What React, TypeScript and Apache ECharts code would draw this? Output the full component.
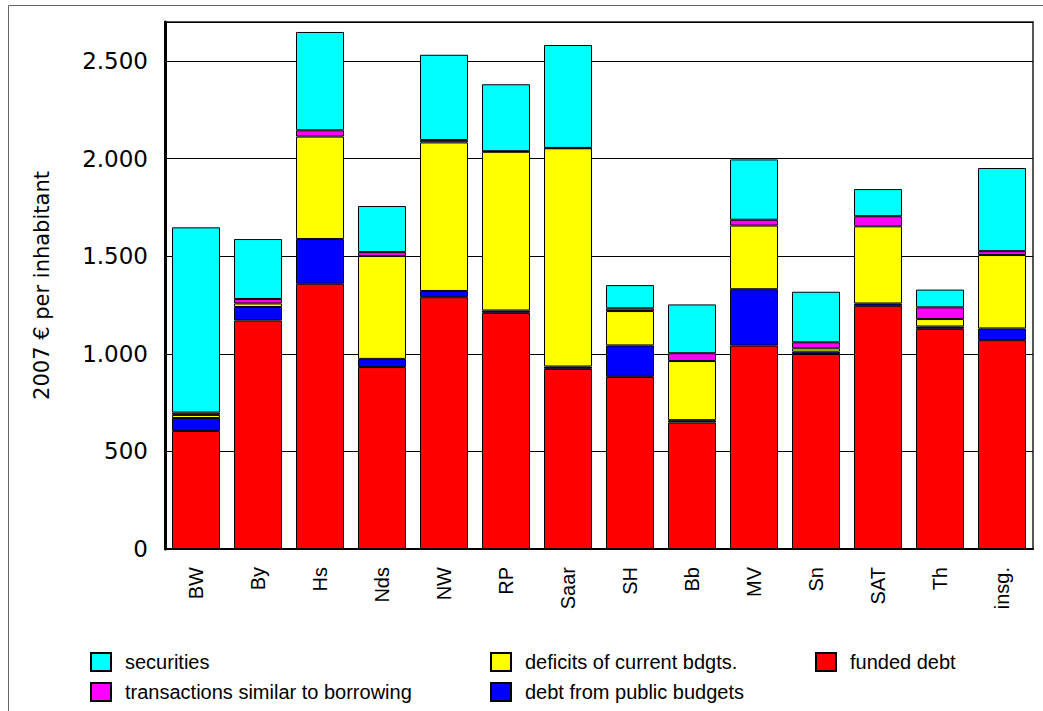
import React, { useEffect, useRef } from "react";
import * as echarts from "echarts";

const categories = ["BW", "By", "Hs", "Nds", "NW", "RP", "Saar", "SH", "Bb", "MV", "Sn", "SAT", "Th", "insg."];
const fundedDebt = [605, 1171, 1359, 932, 1290, 1210, 923, 882, 648, 1042, 999, 1246, 1128, 1070];
const debtFromPublicBudgets = [66, 69, 229, 42, 32, 12, 12, 161, 12, 289, 12, 12, 12, 60];
const deficitsOfCurrentBudgets = [16, 18, 525, 527, 761, 813, 1118, 176, 303, 326, 17, 395, 38, 376];
const transactionsSimilar = [12, 23, 32, 20, 12, 3, 2, 14, 40, 30, 31, 52, 60, 20];
const securities = [949, 307, 504, 236, 437, 343, 527, 119, 250, 309, 259, 139, 91, 426];

const seriesDefs = [
  { name: "funded debt", data: fundedDebt, color: "#FF0000" },
  { name: "debt from public budgets", data: debtFromPublicBudgets, color: "#0000FF" },
  { name: "deficits of current bdgts.", data: deficitsOfCurrentBudgets, color: "#FFFF00" },
  { name: "transactions similar to borrowing", data: transactionsSimilar, color: "#FF00FF" },
  { name: "securities", data: securities, color: "#00FFFF" },
];

const legendPlaces: [string, number, number][] = [
  ["securities", 90, 652],
  ["transactions similar to borrowing", 90, 682],
  ["deficits of current bdgts.", 490, 652],
  ["debt from public budgets", 490, 682],
  ["funded debt", 815, 652],
];

const legendText = {
  fontFamily: "Liberation Sans, Arial, sans-serif",
  fontSize: 20,
  color: "#000",
  padding: [0, 0, 0, 9],
};

export default function App() {
  const ref = useRef<HTMLDivElement>(null);
  useEffect(() => {
    if (!ref.current) return;
    const chart = echarts.init(ref.current, null, { renderer: "svg" });
    chart.setOption({
      animation: false,
      backgroundColor: "#fff",
      grid: { left: 165, right: 10, top: 22, bottom: 162, show: true, borderColor: "#555", borderWidth: 2 },
      legend: legendPlaces.map(([name, left, top]) => ({
        left,
        top,
        padding: 0,
        icon: "rect",
        itemWidth: 20,
        itemHeight: 18,
        selectedMode: false,
        textStyle: legendText,
        data: [name],
      })),
      xAxis: {
        type: "category",
        data: categories,
        axisLine: { lineStyle: { color: "#000", width: 2 } },
        axisTick: { show: false },
        axisLabel: {
          rotate: 90,
          margin: 18,
          interval: 0,
          fontFamily: "Liberation Sans, Arial, sans-serif",
          fontSize: 20,
          color: "#000",
        },
      },
      yAxis: {
        type: "value",
        min: 0,
        max: 2700,
        interval: 500,
        name: "2007 € per inhabitant",
        nameLocation: "middle",
        nameGap: 113,
        nameTextStyle: { fontFamily: "DejaVu Sans, sans-serif", fontSize: 21, color: "#000" },
        axisLine: { show: true, lineStyle: { color: "#000", width: 3 } },
        axisTick: { show: false },
        splitLine: { lineStyle: { color: "#000", width: 1 } },
        axisLabel: {
          margin: 17,
          fontFamily: "DejaVu Sans, sans-serif",
          fontSize: 23,
          color: "#000",
          formatter: (v: number) =>
            v % 500 === 0 ? String(v).replace(/\B(?=(\d{3})+(?!\d))/g, ".") : "",
        },
      },
      series: seriesDefs.map((s) => ({
        name: s.name,
        type: "bar",
        stack: "total",
        barWidth: 48,
        data: s.data,
        itemStyle: { color: s.color, borderColor: "#000", borderWidth: 1 },
      })),
      graphic: [
        {
          type: "rect",
          shape: { x: 8.5, y: 5.5, width: 1200, height: 800 },
          style: { fill: "none", stroke: "#666", lineWidth: 1 },
          silent: true,
        },
      ],
    });
    return () => chart.dispose();
  }, []);
  return <div ref={ref} style={{ position: "fixed", left: 0, top: 0, width: 1043, height: 711 }} />;
}
